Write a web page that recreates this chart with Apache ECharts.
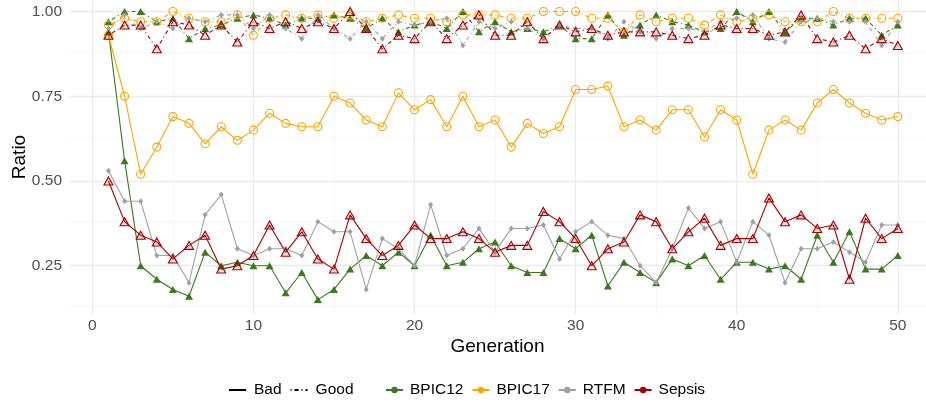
<!DOCTYPE html>
<html>
<head>
<meta charset="utf-8">
<script src="https://cdn.jsdelivr.net/npm/echarts@6/dist/echarts.min.js"></script>
<style>html,body{margin:0;padding:0;background:#fff;}#c{width:926px;height:403px;}</style>
</head>
<body>
<div id="c"></div>
<script>
const generations = [1,2,3,4,5,6,7,8,9,10,11,12,13,14,15,16,17,18,19,20,21,22,23,24,25,26,27,28,29,30,31,32,33,34,35,36,37,38,39,40,41,42,43,44,45,46,47,48,49,50];

const bpic12Bad = [0.94,0.56,0.25,0.21,0.18,0.16,0.29,0.25,0.26,0.25, 0.25,0.17,0.23,0.15,0.18,0.24,0.28,0.25,0.29,0.25, 0.34,0.25,0.26,0.30,0.32,0.25,0.23,0.23,0.33,0.30, 0.34,0.19,0.26,0.23,0.20,0.27,0.25,0.28,0.21,0.26, 0.26,0.24,0.25,0.21,0.34,0.26,0.35,0.24,0.24,0.28];
const bpic17Bad = [0.93,0.75,0.52,0.60,0.69,0.67,0.61,0.66,0.62,0.65, 0.70,0.67,0.66,0.66,0.75,0.73,0.68,0.66,0.76,0.71, 0.74,0.66,0.75,0.66,0.68,0.60,0.67,0.64,0.66,0.77, 0.77,0.78,0.66,0.68,0.65,0.71,0.71,0.63,0.71,0.68, 0.52,0.65,0.68,0.65,0.73,0.77,0.73,0.70,0.68,0.69];
const rtfmBad   = [0.53,0.44,0.44,0.28,0.28,0.20,0.40,0.46,0.30,0.28, 0.30,0.30,0.28,0.38,0.35,0.35,0.18,0.33,0.30,0.25, 0.43,0.28,0.30,0.36,0.29,0.36,0.36,0.37,0.27,0.35, 0.38,0.34,0.33,0.25,0.20,0.30,0.42,0.36,0.38,0.26, 0.38,0.34,0.20,0.30,0.30,0.32,0.29,0.26,0.37,0.37];
const sepsisBad = [0.50,0.38,0.34,0.32,0.27,0.31,0.34,0.24,0.25,0.28, 0.37,0.29,0.35,0.27,0.24,0.40,0.33,0.28,0.31,0.37, 0.33,0.33,0.35,0.33,0.29,0.31,0.31,0.41,0.38,0.33, 0.25,0.30,0.32,0.40,0.38,0.30,0.35,0.39,0.31,0.33, 0.33,0.45,0.38,0.40,0.36,0.37,0.21,0.39,0.33,0.36];

const bpic12Good = [0.97,1.00,1.00,0.97,0.98,0.92,0.95,0.96,0.98,0.99, 0.98,0.96,0.98,0.98,0.99,0.98,0.95,0.98,0.94,0.96, 0.97,0.95,1.00,0.94,0.97,0.94,0.95,0.94,0.96,0.92, 0.92,0.99,0.93,0.96,0.99,0.97,0.96,0.94,0.95,1.00, 0.97,1.00,0.94,0.98,0.98,0.96,0.98,0.98,0.93,0.96];
const bpic17Good = [0.96,0.98,0.97,0.97,1.00,0.98,0.97,0.97,0.99,0.93, 0.98,0.99,0.98,0.99,0.98,0.99,0.97,0.98,0.99,0.98, 0.98,0.97,0.99,0.99,0.99,0.98,0.98,1.00,1.00,1.00, 0.98,0.98,0.94,0.99,0.97,0.98,0.98,0.96,0.99,0.97, 0.98,0.99,0.97,0.97,0.97,1.00,0.98,0.98,0.98,0.98];
const rtfmGood   = [0.95,0.99,0.95,0.97,0.95,0.98,0.97,0.99,0.99,0.95, 0.99,0.95,0.92,0.99,0.95,0.92,0.97,0.92,0.97,0.96, 0.97,0.98,0.90,0.97,0.95,0.97,0.95,0.92,0.96,0.95, 0.95,0.92,0.97,0.94,0.92,0.95,0.95,0.94,0.97,0.98, 0.99,0.92,0.91,0.97,0.98,0.97,0.97,0.97,0.90,0.97];
const sepsisGood = [0.93,0.96,0.96,0.89,0.97,0.96,0.93,0.96,0.91,0.97, 0.95,0.97,0.95,0.97,0.95,1.00,0.95,0.89,0.93,0.92, 0.97,0.92,0.96,0.99,0.93,0.93,0.97,0.92,0.96,0.94, 0.95,0.93,0.94,0.94,0.94,0.93,0.92,0.93,0.96,0.95, 0.95,0.93,0.94,0.99,0.92,0.91,0.93,0.89,0.92,0.90];

const xTicks = [0,10,20,30,40,50];
const xMinor = [5,15,25,35,45];
const yTicks = [0.25,0.50,0.75,1.00];
const yMinor = [0.125,0.375,0.625,0.875];
const datasetNames = ['BPIC12','BPIC17','RTFM','Sepsis'];
const typeNames = ['Bad','Good'];

const FONT = '"Liberation Sans", Arial, sans-serif';
const colors = {BPIC12:'#3B7A1E', BPIC17:'#FFA500', RTFM:'#A0A0A0', Sepsis:'#A50000'};
const symbols = {
  BPIC12: {symbol:'triangle', symbolSize:[8,7], itemStyle:{color:colors.BPIC12}},
  BPIC17: {symbol:'circle', symbolSize:8, itemStyle:{color:'rgba(0,0,0,0)', borderColor:colors.BPIC17, borderWidth:1.1}},
  RTFM:   {symbol:'diamond', symbolSize:[5,6], itemStyle:{color:colors.RTFM}},
  Sepsis: {symbol:'triangle', symbolSize:[9,8], itemStyle:{color:'rgba(165,0,0,0.12)', borderColor:colors.Sepsis, borderWidth:1.1}}
};
const DOTDASH = [1,3,4,3];

function pts(vals){ return generations.map((g,i)=>[g, vals[i]]); }

const dataMap = {
  BPIC12:{Bad:bpic12Bad, Good:bpic12Good},
  BPIC17:{Bad:bpic17Bad, Good:bpic17Good},
  RTFM:{Bad:rtfmBad, Good:rtfmGood},
  Sepsis:{Bad:sepsisBad, Good:sepsisGood}
};

const series = [];
const gridLines = [];
xMinor.forEach(v=>gridLines.push({xAxis:v, lineStyle:{color:'#F2F2F2', width:0.7, type:'solid'}}));
yMinor.forEach(v=>gridLines.push({yAxis:v, lineStyle:{color:'#F2F2F2', width:0.7, type:'solid'}}));
xTicks.forEach(v=>gridLines.push({xAxis:v, lineStyle:{color:'#EBEBEB', width:1.3, type:'solid'}}));
yTicks.forEach(v=>gridLines.push({yAxis:v, lineStyle:{color:'#EBEBEB', width:1.3, type:'solid'}}));
series.push({
  name:'_grid', type:'line', data:[], z:0, silent:true,
  markLine:{silent:true, symbol:['none','none'], label:{show:false}, z:0, animation:false, data:gridLines}
});

['Bad','Good'].forEach(t=>{
  datasetNames.forEach(d=>{
    const s = symbols[d];
    series.push({
      name: d + ' ' + t, type:'line', data: pts(dataMap[d][t]), z:3,
      symbol:s.symbol, symbolSize:s.symbolSize, showSymbol:true,
      itemStyle:s.itemStyle,
      lineStyle:{color:colors[d], width:1.1, type: t==='Bad' ? 'solid' : DOTDASH},
      emphasis:{disabled:true}, animation:false
    });
  });
});

typeNames.forEach(t=>{
  series.push({name:t, type:'line', data:[], symbol:'none', itemStyle:{color:'#000'},
    lineStyle:{color:'#000', width:1.6, type: t==='Bad' ? 'solid' : DOTDASH}});
});
datasetNames.forEach(d=>{
  series.push({name:d, type:'line', data:[], symbol:'circle', symbolSize:5, itemStyle:{color:colors[d]},
    lineStyle:{color:colors[d], width:1.6}});
});

const chart = echarts.init(document.getElementById('c'), null, {renderer:'canvas'});
chart.setOption({
  animation:false,
  backgroundColor:'#fff',
  textStyle:{fontFamily:FONT},
  grid:{left:69, right:0, top:0, bottom:89, containLabel:false, outerBoundsMode:'none'},
  xAxis:{
    type:'value', min:-1.45, max:51.75,
    name:'Generation', nameLocation:'middle', nameGap:23, nameMoveOverlap:false,
    nameTextStyle:{color:'#000', fontSize:19, fontFamily:FONT},
    axisLine:{show:false}, axisTick:{show:false}, splitLine:{show:false},
    axisLabel:{customValues:xTicks, color:'#4D4D4D', fontSize:15.5, margin:4, fontFamily:FONT}
  },
  yAxis:{
    type:'value', min:0.1075, max:1.034,
    name:'Ratio', nameLocation:'middle', nameGap:40, nameRotate:90, nameMoveOverlap:false,
    nameTextStyle:{color:'#000', fontSize:19, fontFamily:FONT},
    axisLine:{show:false}, axisTick:{show:false}, splitLine:{show:false},
    axisLabel:{customValues:yTicks, color:'#4D4D4D', fontSize:15.5, margin:7, fontFamily:FONT,
      formatter:v=>v.toFixed(2)}
  },
  legend:[
    {data:typeNames.map(n=>({name:n, itemStyle:{opacity:0}})), left:223, top:377, itemWidth:17, itemHeight:8, itemGap:8,
      textStyle:{fontSize:15.5, color:'#000', fontFamily:FONT, padding:[0,0,0,3]}, selectedMode:false},
    {data:datasetNames, left:380, top:377, itemWidth:17, itemHeight:8, itemGap:8,
      textStyle:{fontSize:15.5, color:'#000', fontFamily:FONT, padding:[0,0,0,2]}, selectedMode:false}
  ],
  series:series
});
</script>
</body>
</html>
